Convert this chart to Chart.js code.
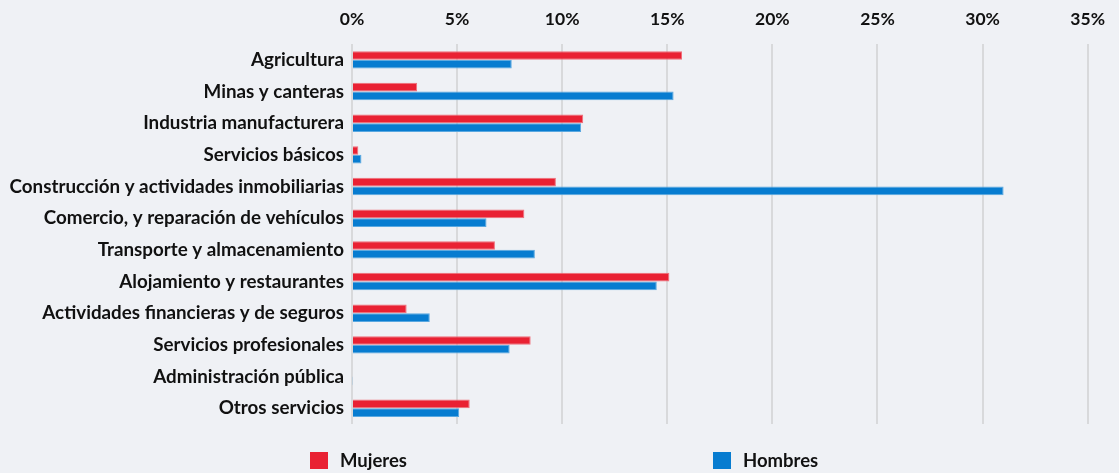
<!DOCTYPE html>
<html lang="es">
<head>
<meta charset="utf-8">
<script src="https://cdn.jsdelivr.net/npm/chart.js@4.4.1/dist/chart.umd.min.js"></script>
<style>
  html, body { margin: 0; padding: 0; background: #eff1f5; }
  #wrap { position: relative; width: 1119px; height: 473px; }
  #chart { position: absolute; left: 0; top: 0; }
  .legend { position: absolute; top: 449px; font: bold 18.5px Lato, "Open Sans", sans-serif; color: #111; display: flex; align-items: center; }
  .legend span.box { display: inline-block; width: 18px; height: 17px; margin-right: 12px; }
</style>
</head>
<body>
<div id="wrap">
  <canvas id="chart" width="1119" height="473"></canvas>
  <div class="legend" style="left:310px"><span class="box" style="background:#e92133"></span>Mujeres</div>
  <div class="legend" style="left:713px"><span class="box" style="background:#077cd0"></span>Hombres</div>
</div>
<script>
// Sectores económicos
const categories = [
  'Agricultura',
  'Minas y canteras',
  'Industria manufacturera',
  'Servicios básicos',
  'Construcción y actividades inmobiliarias',
  'Comercio, y reparación de vehículos',
  'Transporte y almacenamiento',
  'Alojamiento y restaurantes',
  'Actividades financieras y de seguros',
  'Servicios profesionales',
  'Administración pública',
  'Otros servicios'
];

// Porcentajes por sexo
const mujeres = [15.7, 3.1, 11.0, 0.3, 9.7, 8.2, 6.8, 15.1, 2.6, 8.5, 0.05, 5.6];
const hombres = [7.6, 15.3, 10.9, 0.45, 31.0, 6.4, 8.7, 14.5, 3.7, 7.5, 0.03, 5.1];

const xTicks = [0, 5, 10, 15, 20, 25, 30, 35];

const FONT = 'Lato, "Open Sans", sans-serif';

new Chart(document.getElementById('chart'), {
  type: 'bar',
  data: {
    labels: categories,
    datasets: [
      { label: 'Mujeres', data: mujeres, backgroundColor: '#e92133', borderColor: '#ef6f7a', borderWidth: 1 },
      { label: 'Hombres', data: hombres, backgroundColor: '#077cd0', borderColor: '#5aa8e0', borderWidth: 1 }
    ]
  },
  options: {
    indexAxis: 'y',
    responsive: false,
    animation: false,
    layout: { padding: { left: 0, right: 26, top: 0, bottom: 49 } },
    plugins: { legend: { display: false }, tooltip: { enabled: false } },
    datasets: { bar: { categoryPercentage: 0.55, barPercentage: 1.0 } },
    scales: {
      x: {
        position: 'top',
        min: 0,
        max: 35,
        afterBuildTicks: (axis) => { axis.ticks = xTicks.map(v => ({ value: v })); },
        afterFit: (axis) => { axis.height = 44; },
        border: { display: false },
        grid: { color: '#d8d9db', lineWidth: 2, drawTicks: false },
        ticks: {
          padding: 14,
          color: '#111',
          font: { family: FONT, size: 17.5, weight: 'bold' },
          callback: (v) => v + '%'
        }
      },
      y: {
        afterFit: (axis) => { axis.width = 352; },
        border: { display: false },
        grid: { display: false, drawTicks: false },
        ticks: {
          padding: 8,
          color: '#111',
          font: { family: FONT, size: 18.8, weight: 'bold' }
        }
      }
    }
  }
});
</script>
</body>
</html>
